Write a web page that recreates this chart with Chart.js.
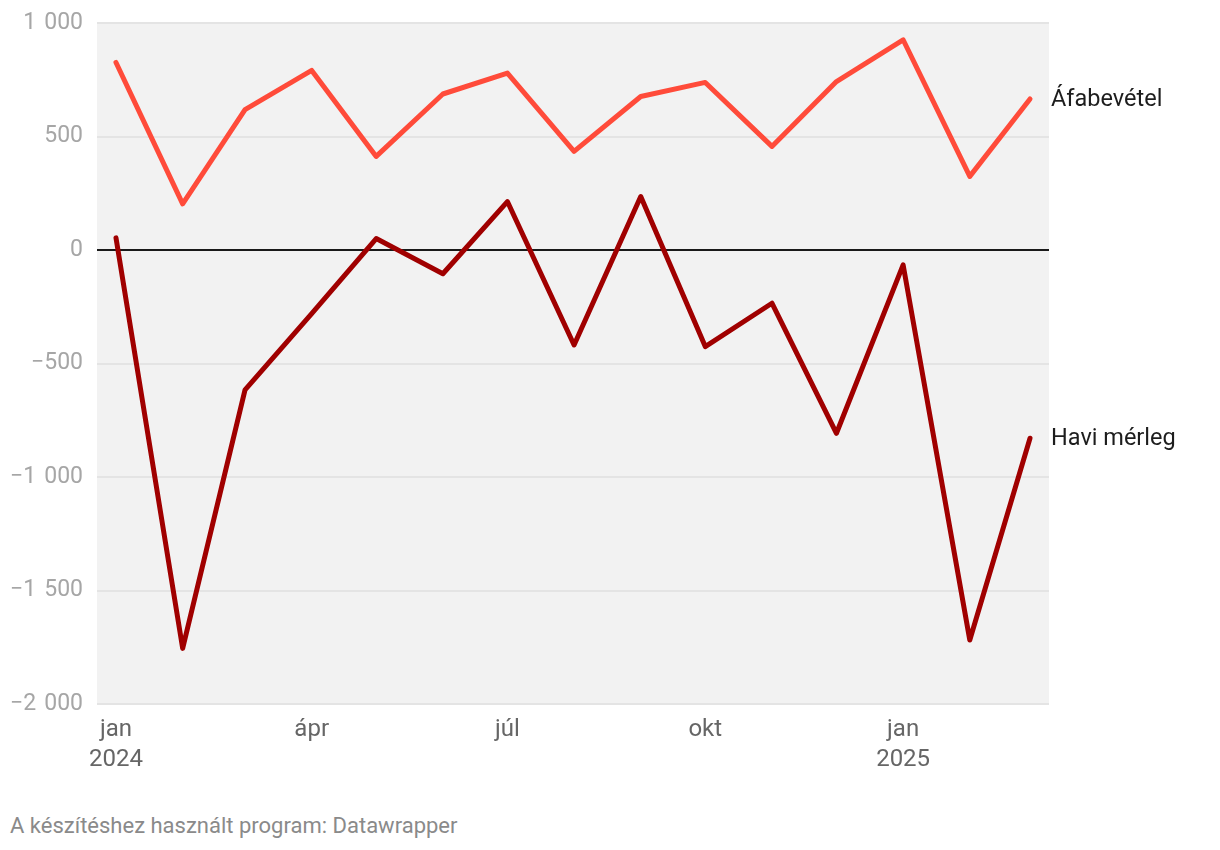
<!DOCTYPE html>
<html lang="hu">
<head>
<meta charset="utf-8">
<script src="https://cdn.jsdelivr.net/npm/chart.js@4/dist/chart.umd.min.js"></script>
<style>
  html, body { margin: 0; padding: 0; background: #fff; }
  #wrap { position: relative; width: 1220px; height: 790px; }
  .source {
    position: absolute;
    left: 10px;
    top: 813px;
    font: 22px Roboto, "Noto Sans", sans-serif;
    color: #8a8a8a;
  }
</style>
</head>
<body>
<div id="wrap"><canvas id="chart"></canvas></div>
<div class="source">A készítéshez használt program: Datawrapper</div>
<script>
// Monthly figures, jan 2024 .. márc 2025
const monthDates = [
  "2024-01-01", "2024-02-01", "2024-03-01", "2024-04-01", "2024-05-01",
  "2024-06-01", "2024-07-01", "2024-08-01", "2024-09-01", "2024-10-01",
  "2024-11-01", "2024-12-01", "2025-01-01", "2025-02-01", "2025-03-01",
];
const months = ["jan", "feb", "márc", "ápr", "máj", "jún", "júl", "aug", "szept", "okt", "nov", "dec", "jan", "feb", "márc"];
const years = ["2024", "", "", "", "", "", "", "", "", "", "", "", "2025", "", ""];
const vatRevenue = [827, 204, 619, 792, 413, 688, 780, 435, 677, 739, 457, 743, 927, 325, 666];
const monthlyBalance = [54, -1755, -616, -280, 51, -104, 214, -418, 236, -425, -234, -807, -65, -1718, -829];
const xTickIndexes = [0, 3, 6, 9, 12];
const yTicks = [1000, 500, 0, -500, -1000, -1500, -2000];

const seriesNames = ["Áfabevétel", "Havi mérleg"];
const seriesColors = ["#ff4b3a", "#a00000"];

const DAY = 24 * 3600 * 1000;
const start = Date.parse(monthDates[0]);
const dayOffsets = monthDates.map((d) => Math.round((Date.parse(d) - start) / DAY));

function toPoints(values) {
  return values.map((v, i) => ({ x: dayOffsets[i], y: v }));
}

function formatNumber(v) {
  const abs = Math.abs(v);
  const txt = abs >= 1000 ? `${Math.floor(abs / 1000)}\u00a0\u200a${String(abs % 1000).padStart(3, "0")}` : String(abs);
  return v < 0 ? `\u2212${txt}` : txt;
}

const plotBackground = {
  id: "plotBackground",
  beforeDraw(chart) {
    const { ctx, chartArea } = chart;
    ctx.save();
    ctx.fillStyle = "#f2f2f2";
    ctx.fillRect(chartArea.left, chartArea.top, chartArea.right - chartArea.left, chartArea.bottom - chartArea.top);
    ctx.restore();
  },
};

const endLabels = {
  id: "endLabels",
  afterDatasetsDraw(chart) {
    const { ctx, chartArea } = chart;
    ctx.save();
    ctx.font = "23.5px Roboto, 'Noto Sans', sans-serif";
    ctx.fillStyle = "#1d1d1d";
    ctx.textBaseline = "middle";
    ctx.textAlign = "left";
    chart.data.datasets.forEach((ds, i) => {
      const meta = chart.getDatasetMeta(i);
      const last = meta.data[meta.data.length - 1];
      ctx.fillText(ds.label, chartArea.right + 2, last.y + 1);
    });
    ctx.restore();
  },
};

const commonLine = {
  borderWidth: 5,
  pointRadius: 0,
  pointHoverRadius: 0,
  tension: 0,
  borderCapStyle: "round",
  borderJoinStyle: "round",
  fill: false,
};

const edgeDays = 8.83;

new Chart(document.getElementById("chart"), {
  type: "line",
  data: {
    datasets: [
      { ...commonLine, label: seriesNames[0], data: toPoints(vatRevenue), borderColor: seriesColors[0] },
      { ...commonLine, label: seriesNames[1], data: toPoints(monthlyBalance), borderColor: seriesColors[1] },
    ],
  },
  options: {
    responsive: true,
    maintainAspectRatio: false,
    animation: false,
    layout: { padding: { top: 23, right: 171, left: 0, bottom: 0 } },
    plugins: {
      legend: { display: false },
      tooltip: { enabled: false },
    },
    scales: {
      x: {
        type: "linear",
        min: -edgeDays,
        max: dayOffsets[dayOffsets.length - 1] + edgeDays,
        afterBuildTicks(scale) {
          scale.ticks = xTickIndexes.map((i) => ({ value: dayOffsets[i] }));
        },
        afterFit(scale) {
          scale.height = 86;
        },
        grid: { display: false, drawTicks: false },
        border: { display: false },
        ticks: {
          padding: 11,
          maxRotation: 0,
          autoSkip: false,
          color: "#666",
          font: { family: "Roboto, 'Noto Sans', sans-serif", size: 24, lineHeight: 1.25 },
          callback(value) {
            const i = dayOffsets.indexOf(value);
            return years[i] ? [months[i], years[i]] : months[i];
          },
        },
      },
      y: {
        min: -2000,
        max: 1000,
        afterBuildTicks(scale) {
          scale.ticks = yTicks.map((v) => ({ value: v }));
        },
        afterFit(scale) {
          scale.width = 97;
        },
        border: { display: false },
        grid: {
          drawTicks: false,
          color: (c) => (c.tick && c.tick.value === 0 ? "#1a1a1a" : "#e4e4e4"),
          lineWidth: 2,
        },
        ticks: {
          padding: 14,
          color: "#a6a6a6",
          font: { family: "Roboto, 'Noto Sans', sans-serif", size: 23, lineHeight: 0.8 },
          callback: (v) => formatNumber(v),
        },
      },
    },
  },
  plugins: [plotBackground, endLabels],
});
</script>
</body>
</html>
